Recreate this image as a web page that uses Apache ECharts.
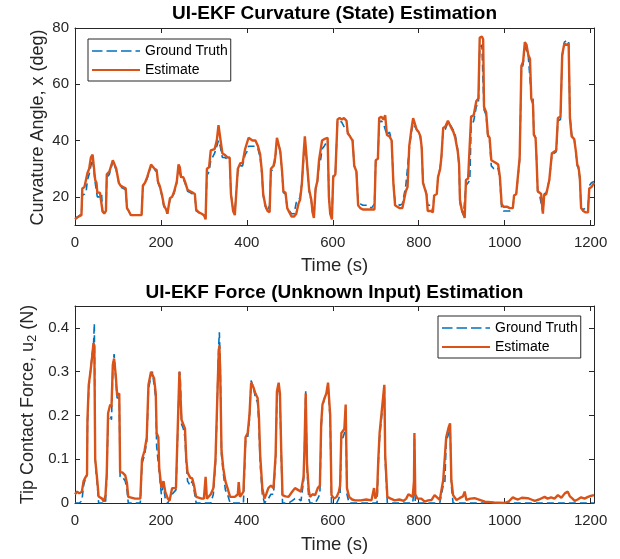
<!DOCTYPE html>
<html><head><meta charset="utf-8">
<script src="https://cdn.jsdelivr.net/npm/echarts@6/dist/echarts.min.js"></script>
<style>html,body{margin:0;padding:0;background:#fff}#c{width:620px;height:559px}</style>
</head><body><div id="c"></div>
<script>
// ---------- Top panel: curvature (deg) ----------
const topTime = [0,4,8,12,15,17,22,26,29,33,
37,41,45,47,50,52,58,62,64,68,
72,74,80,84,88,92,96,100,102,106,
112,118,121,125,130,142,155,158,163,168,
172,177,181,185,190,193,197,202,207,212,
215,218,221,226,231,237,241,244,247,252,
257,262,268,274,279,282,288,295,300,304,
307,312,316,320,325,330,334,338,343,348,
355,360,363,368,372,376,379,385,390,396,
400,404,408,413,420,426,431,435,438,443,
448,453,456,462,466,470,474,478,482,485,
490,494,499,504,510,515,520,524,528,532,
535,538,541,545,550,553,556,560,564,568,
572,575,580,584,588,591,594,598,601,606,
611,616,621,626,632,635,640,646,650,655,
659,664,670,680,690,697,700,705,708,713,
718,722,726,732,737,741,745,750,756,762,
766,770,774,778,783,787,791,795,800,804,
807,810,815,818,821,828,833,836,842,845,
850,853,857,862,868,872,876,881,885,891,
894,896,900,904,907,910,915,919,922,928,
934,939,942,947,950,952,957,961,965,969,
975,980,985,989,993,997,1005,1012,1019,1022,
1027,1031,1035,1039,1043,1047,1051,1055,1059,1062,
1066,1068,1072,1074,1077,1081,1085,1089,1092,1097,
1100,1104,1107,1110,1115,1120,1124,1130,1134,1139,
1144,1149,1152,1156,1162,1166,1169,1172,1175,1178,
1183,1188,1194,1197,1202,1208];
const topEstimate = [12,12.5,13,13,13.5,23,23.5,24,28.5,30,
34,35,34.5,26,25,21.5,21.5,21,15,14,
15,28,29,28.5,33,32.5,30,30,25,24,
23.5,23,16,15,13.5,13.5,13.5,24,25,27,
29,31.5,32,30,29.5,25.5,24,21,17,15.5,
14,13.5,19.5,20,22,25.5,31.5,30.5,27,27,
25,22.5,22,21.5,21,15.5,14.5,14,13.5,12,
30,30.5,36.5,36,37,40,45.5,41,35.5,35,
34,34,21,15,13.5,13.5,30,32,32,37,
37.5,41,41.5,40,40,38,35,29,21,17,
15,14.5,30,31,34,41,40.5,36,29,22,
21.5,16,14.5,13,13,14,17.5,19,24.5,35,
41.5,36,30,22.5,19,14.5,12.5,23,25.5,33,
33,40,40.5,40.5,41,20,14,12,27,28,
47.5,48,47.5,48,47,42.5,41.5,40,31,29,
17,16,15.5,15.5,15.5,15.5,33,33.5,48,48.5,
47.5,49,42,41.5,40,25,17,16.5,16,16,
15.5,22,23.5,38,44,48,47.5,44,43,41.5,
37.5,25,22.5,21,15,15,14.5,20.5,21,27,
30,34.5,44.5,45,47,46.5,44.5,43,41,36,
31.5,19,15.5,14,12.5,26,26.5,26.5,48.5,49,
54,55,76.5,77,76,52,50,42,41,33,
32.5,32,31.5,27,17.5,16.5,16.5,16,16,20.5,
21,21,34,66.5,68,75,74,70.5,69,55,
53,42,41,34.5,22,21.5,21,14,20.5,21,
21.5,26,26.5,35.5,36,36.5,48,48.5,70.5,74.5,
74,74.5,48,41.5,40.5,36,31.5,30.5,27,16,
15,14.5,14.5,23,23.5,25];
const topTruth = [12.5,13,13,13.5,14,20.5,21,22,26,28,
31,33.5,34,25,24.5,20,20,21,14.5,14,
15,27,28,28,32.5,32,29.5,29.5,25,23.5,
23,22.5,16,15,13.5,13.5,13.5,23.5,25,26.5,
28.5,31,31.5,29.5,29,25,23.5,20.5,16.5,15.5,
14,13.5,19,19.5,21.5,25,30.5,30,26.5,26.5,
24.5,22,21.5,21,20.5,15,14.5,14,13.5,12.5,
27.5,29,33,34,35.5,38,40,38,34,34,
33.5,33,21,15.5,14.5,14,29,31,31,35,
36,38,38.5,38,38,37,34,28,20.5,16.5,
15,17,29,30,33,40,39,35.5,28.5,21.5,
21,16,15,14,14,18,18.5,20,25,33,
39,35,30,22,18.5,14.5,13,22.5,25,31,
33.5,37,38,39,40,20,14,13,27.5,28,
47,47,46.5,45,44,43,41.5,40.5,31,29,
18,17.5,17,17,16,17.5,33,33,46.5,47,
46,46.5,42,43,40,25.5,18,17.5,17,17.5,
17.5,24,24.5,37,43,46,45.5,44,42.5,41,
37,25,23,21,17,17,15,21,21.5,27,
30.5,34.5,44,44,46.5,46.5,45,43.5,42,36.5,
31,18,15,13.5,13,24,25,26,45,47,
52,53.5,73,74,74,51,49,41.5,40,31,
30,30.5,30,26,16,15,15,15,15.5,20.5,
21,21.5,33,65,67,74,74.5,70,70,56,
55,42.5,41,34.5,22,21,21,14.5,21,21.5,
22,26,26.5,35,35.5,36,47,47.5,70,75,
75.5,75.5,49,42,40.5,35.5,31,30,26,16,
15.5,16,16,24,25,25.5];

// ---------- Bottom panel: tip contact force (N) ----------
const botTime = [0,5,10,16,20,24,28,29,32,36,
40,43,45,47,49,52,55,63,67,71,
74,77,82,85,88,91,95,98,103,105,
110,117,121,124,140,152,156,162,167,171,
177,180,184,188,190,194,196,201,206,210,
216,220,226,235,240,243,245,248,252,256,
259,262,268,273,277,282,295,300,304,307,
316,322,327,330,334,336,338,341,345,350,
355,361,372,379,381,384,392,397,402,406,
410,415,420,425,428,431,436,441,445,450,
456,462,467,470,474,477,480,483,490,497,
505,512,519,526,532,534,537,540,544,547,
553,559,565,570,573,576,581,585,589,592,
594,597,603,609,614,617,620,624,627,630,
633,638,645,652,665,678,690,694,696,699,
703,706,709,713,717,720,722,727,735,744,
755,765,771,776,779,786,789,790,792,797,
806,814,822,830,837,841,849,853,857,861,
864,870,873,876,880,888,895,903,907,911,
920,930,942,954,975,1000,1010,1019,1025,1031,
1040,1054,1062,1070,1080,1093,1100,1108,1116,1124,
1132,1140,1147,1152,1158,1163,1170,1178,1186,1194,
1200,1208];
const botEstimate = [0.02,0.026,0.022,0.026,0.05,0.058,0.065,0.19,0.27,0.3,
0.335,0.365,0.36,0.1,0.08,0.05,0.015,0.01,0.003,0.018,
0.07,0.205,0.225,0.22,0.315,0.33,0.29,0.247,0.25,0.07,
0.07,0.063,0.045,0.014,0.01,0.01,0.1,0.12,0.15,0.27,
0.3,0.3,0.285,0.25,0.16,0.15,0.08,0.035,0.05,0.026,
0.01,0.005,0.034,0.034,0.2,0.3,0.3,0.19,0.18,0.17,
0.1,0.07,0.058,0.056,0.04,0.014,0.01,0.01,0.06,0.01,
0.02,0.034,0.1,0.2,0.33,0.36,0.3,0.12,0.08,0.05,
0.034,0.014,0.014,0.02,0.048,0.014,0.026,0.15,0.16,0.2,
0.275,0.265,0.25,0.24,0.2,0.11,0.034,0.01,0.02,0.034,
0.04,0.034,0.11,0.255,0.275,0.25,0.12,0.018,0.015,0.014,
0.025,0.034,0.03,0.026,0.06,0.12,0.25,0.09,0.03,0.014,
0.02,0.018,0.034,0.04,0.18,0.225,0.24,0.25,0.275,0.23,
0.2,0.018,0.01,0.014,0.025,0.04,0.16,0.165,0.17,0.225,
0.034,0.014,0.008,0.006,0.006,0.008,0.006,0.01,0.034,0.01,
0.02,0.1,0.16,0.2,0.24,0.27,0.11,0.014,0.01,0.006,
0.008,0.005,0.01,0.02,0.018,0.014,0.05,0.16,0.02,0.01,
0.01,0.003,0.006,0.007,0.018,0.014,0.007,0.03,0.052,0.056,
0.15,0.174,0.182,0.052,0.018,0.007,0.011,0.015,0.026,0.007,
0.01,0.011,0.007,0.003,0.001,0.0,0.004,0.013,0.01,0.008,
0.012,0.011,0.008,0.005,0.008,0.014,0.01,0.013,0.01,0.018,
0.012,0.022,0.026,0.015,0.01,0.005,0.008,0.013,0.01,0.014,
0.016,0.018];
const botTruth = [0,0,0,0.005,0.04,0.055,0.06,0.18,0.26,0.3,
0.34,0.36,0.41,0.1,0.07,0.04,0,0,0,0,
0.06,0.19,0.2,0.19,0.31,0.34,0.28,0.24,0.24,0.06,
0.06,0.05,0.03,0,0,0,0.09,0.11,0.14,0.26,
0.29,0.3,0.27,0.24,0.13,0.13,0.07,0.02,0.04,0.01,
0,0,0.02,0.03,0.19,0.3,0.29,0.18,0.17,0.15,
0.09,0.05,0.04,0.05,0.03,0,0,0,0,0,
0,0.02,0.09,0.19,0.35,0.39,0.32,0.11,0.07,0.03,
0.02,0,0,0,0,0,0,0.14,0.15,0.19,
0.28,0.265,0.24,0.23,0.18,0.09,0.02,0,0,0.01,
0.02,0.02,0.1,0.24,0.27,0.24,0.11,0,0,0,
0.005,0.01,0.01,0.005,0.05,0.11,0.255,0.08,0.01,0,
0,0,0.01,0.02,0.17,0.22,0.24,0.245,0.27,0.22,
0.19,0,0,0,0.01,0.02,0.145,0.15,0.16,0.21,
0.02,0,0,0,0,0,0,0,0,0,
0,0.09,0.15,0.19,0.23,0.265,0.1,0,0,0,
0,0,0,0,0,0,0.03,0.15,0,0,
0,0,0,0,0,0,0,0.02,0.04,0.05,
0.14,0.16,0.18,0.04,0,0,0,0,0,0,
0,0,0,0,0,0,0,0,0,0,
0,0,0,0,0,0,0,0,0,0,
0,0,0,0,0,0,0,0,0,0,
0,0];

// ---------- Axis ticks / labels ----------
const timeTicks = [0,200,400,600,800,1000,1200];
const topYTicks = [20,40,60,80];
const botYTicks = [0,0.1,0.2,0.3,0.4];
const seriesNames = ['Ground Truth','Estimate'];
const titles = ['UI-EKF Curvature (State) Estimation','UI-EKF Force (Unknown Input) Estimation'];
const xName = 'Time (s)';
const topYName = 'Curvature Angle, x (deg)';
const botYName = '{n|Tip Contact Force, u}{s|2}{n| (N)}';

const FONT = '"Liberation Sans", Arial, Helvetica, sans-serif';
const AX = '#262626';
const BLUE = '#0072BD', ORANGE = '#D95319';

// legend line samples (dashed / solid), drawn as icon paths
const DASH_ICON = 'path://M0,0h0.01v0.01h-0.01zM48,14h-0.01v-0.01h0.01zM0,6.2h10.5v1.6h-10.5zM14.5,6.2h10.5v1.6h-10.5zM29,6.2h10.5v1.6h-10.5zM43.5,6.2h4.5v1.6h-4.5z';
const SOLID_ICON = 'path://M0,0h0.01v0.01h-0.01zM48,14h-0.01v-0.01h0.01zM0,5.9h48v2.2h-48z';

function zip(t, v) { return t.map((x, i) => [x, v[i]]); }

const G = [
  {left: 75, top: 28, width: 519, height: 197},
  {left: 75, top: 306, width: 519, height: 197}
];

function xAx(g, pos, main, nameGap) {
  return {
    type: 'value', gridIndex: g, position: pos, min: 0, max: 1208,
    axisLine: {show: true, onZero: false, lineStyle: {color: AX, width: 1}},
    axisTick: {show: true, inside: true, length: 5, customValues: timeTicks, lineStyle: {color: AX}},
    axisLabel: {show: main, customValues: timeTicks, color: AX, fontSize: 15, fontFamily: FONT, margin: 10, formatter: v => String(v)},
    splitLine: {show: false},
    name: main ? xName : '', nameLocation: 'middle', nameGap: nameGap,
    nameTextStyle: {color: AX, fontSize: 18.5, fontFamily: FONT}
  };
}
function yAx(g, pos, main, min, max, ticks) {
  return {
    type: 'value', gridIndex: g, position: pos, min: min, max: max,
    axisLine: {show: true, onZero: false, lineStyle: {color: AX, width: 1}},
    axisTick: {show: true, inside: true, length: 5, customValues: ticks, lineStyle: {color: AX}},
    axisLabel: {show: main, customValues: ticks, color: AX, fontSize: 15, fontFamily: FONT, margin: 6, formatter: v => String(v)},
    splitLine: {show: false}
  };
}

function legend(left, top) {
  return {
    left: left, top: top, orient: 'vertical',
    data: [{name: seriesNames[0], icon: DASH_ICON}, {name: seriesNames[1], icon: SOLID_ICON}],
    itemWidth: 48, itemHeight: 14, itemGap: 5,
    padding: [5, 3, 4, 4],
    backgroundColor: '#fff', borderColor: AX, borderWidth: 1, borderRadius: 0,
    textStyle: {color: '#000', fontSize: 14, fontFamily: FONT}, selectedMode: false
  };
}

function line(name, g, data, color, dashed, width, z) {
  return {
    type: 'line', name: name, xAxisIndex: g * 2, yAxisIndex: g * 2, data: data,
    symbol: 'none', showSymbol: false, z: z,
    lineStyle: {color: color, width: width, type: dashed ? [7, 4] : 'solid'},
    itemStyle: {color: color}
  };
}

const chart = echarts.init(document.getElementById('c'), null, {renderer: 'canvas'});
chart.setOption({
  animation: false,
  backgroundColor: '#fff',
  grid: G.map(g => Object.assign({containLabel: false}, g)),
  xAxis: [xAx(0, 'bottom', true, 31), xAx(0, 'top', false, 0), xAx(1, 'bottom', true, 32), xAx(1, 'top', false, 0)],
  yAxis: [
    yAx(0, 'left', true, 10, 80, topYTicks),
    yAx(0, 'right', false, 10, 80, topYTicks),
    yAx(1, 'left', true, 0, 0.45, botYTicks),
    yAx(1, 'right', false, 0, 0.45, botYTicks)
  ],
  legend: [legend(88, 39), legend(438, 316)],
  graphic: [
    {type: 'text', x: 334.5, y: 13.5, style: {text: titles[0], fill: '#000', font: 'bold 19px ' + FONT, align: 'center', verticalAlign: 'middle'}},
    {type: 'text', x: 334.5, y: 293, style: {text: titles[1], fill: '#000', font: 'bold 19px ' + FONT, align: 'center', verticalAlign: 'middle'}},
    {type: 'text', x: 38, y: 127.5, rotation: Math.PI / 2, style: {text: topYName, fill: AX, font: '18px ' + FONT, align: 'center', verticalAlign: 'middle'}},
    {type: 'text', x: 28, y: 404.5, rotation: Math.PI / 2, style: {
      text: botYName, align: 'center', verticalAlign: 'middle',
      rich: {
        n: {fill: AX, fontSize: 18, fontFamily: FONT, lineHeight: 22},
        s: {fill: AX, fontSize: 13, fontFamily: FONT, lineHeight: 22, verticalAlign: 'bottom', padding: [9, 0, 0, 0]}
      }
    }}
  ],
  series: [
    line(seriesNames[0], 0, zip(topTime, topTruth), BLUE, true, 1.6, 2),
    line(seriesNames[1], 0, zip(topTime, topEstimate), ORANGE, false, 2.4, 3),
    line(seriesNames[0], 1, zip(botTime, botTruth), BLUE, true, 1.6, 2),
    line(seriesNames[1], 1, zip(botTime, botEstimate), ORANGE, false, 2.4, 3)
  ]
});
</script></body></html>
